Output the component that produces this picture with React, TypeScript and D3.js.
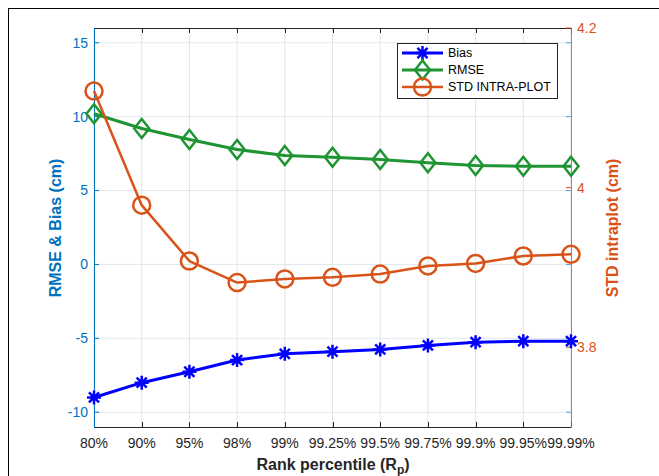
import { useRef, useEffect } from 'react';
import * as d3 from 'd3';

const categories = ['80%', '90%', '95%', '98%', '99%', '99.25%', '99.5%', '99.75%', '99.9%', '99.95%', '99.99%'];
const bias = [-9.0, -8.0, -7.26, -6.47, -6.05, -5.9, -5.75, -5.48, -5.26, -5.19, -5.19];
const rmse = [10.2, 9.2, 8.46, 7.78, 7.37, 7.26, 7.1, 6.88, 6.7, 6.65, 6.65];
const stdIntra = [4.121, 3.978, 3.908, 3.881, 3.8855, 3.8876, 3.8917, 3.9018, 3.905, 3.9143, 3.9164];
const leftTicks = [-10, -5, 0, 5, 10, 15];
const rightTicks = [3.8, 4, 4.2];

const BLUE_AX = '#0072BD';
const ORANGE = '#D95319';
const GREEN = '#1f9433';
const BLUE = '#0000ff';
const FONT = '"Liberation Sans", Arial, sans-serif';

const App = () => {
  const ref = useRef<SVGSVGElement | null>(null);

  useEffect(() => {
    const svg = d3.select(ref.current);
    svg.selectAll('*').remove();

    const left = 94, right = 571, top = 28, bottom = 427;

    const x = d3.scalePoint<string>().domain(categories).range([left, right]).padding(0);
    const yL = d3.scaleLinear().domain([-11, 16]).range([bottom, top]);
    const yR = d3.scaleLinear().domain([3.7, 4.2]).range([bottom, top]);

    // figure frame
    svg.append('rect')
      .attr('x', 8.5).attr('y', 8.5).attr('width', 700).attr('height', 600)
      .attr('fill', '#fff').attr('stroke', '#000').attr('stroke-width', 1);

    // grid
    const grid = svg.append('g');
    grid.selectAll('line.v').data(categories).enter().append('line')
      .attr('x1', d => x(d)!).attr('x2', d => x(d)!)
      .attr('y1', top).attr('y2', bottom)
      .attr('stroke', '#e4e4e4').attr('stroke-width', 1);
    grid.selectAll('line.h').data(leftTicks).enter().append('line')
      .attr('x1', left).attr('x2', right)
      .attr('y1', d => yL(d)).attr('y2', d => yL(d))
      .attr('stroke', '#e0e8f0').attr('stroke-width', 1);

    // top & bottom box lines with inward ticks
    const box = svg.append('g').attr('stroke', '#262626').attr('stroke-width', 1);
    box.append('line').attr('x1', left).attr('x2', right).attr('y1', top + 0.5).attr('y2', top + 0.5);
    box.append('line').attr('x1', left).attr('x2', right).attr('y1', bottom + 0.5).attr('y2', bottom + 0.5);
    categories.forEach(c => {
      const cx = Math.round(x(c)!) + 0.5;
      box.append('line').attr('x1', cx).attr('x2', cx).attr('y1', top).attr('y2', top + 5);
      box.append('line').attr('x1', cx).attr('x2', cx).attr('y1', bottom).attr('y2', bottom - 5);
    });

    // left axis
    const la = svg.append('g');
    la.append('line').attr('x1', left + 0.5).attr('x2', left + 0.5).attr('y1', top).attr('y2', bottom + 1)
      .attr('stroke', BLUE_AX).attr('stroke-width', 1);
    leftTicks.forEach(t => {
      la.append('line').attr('x1', left).attr('x2', left + 5).attr('y1', yL(t)).attr('y2', yL(t))
        .attr('stroke', BLUE_AX);
      la.append('line').attr('x1', right - 5).attr('x2', right).attr('y1', yL(t)).attr('y2', yL(t))
        .attr('stroke', BLUE_AX).attr('opacity', 0.6);
      la.append('text').attr('x', left - 6).attr('y', yL(t)).attr('dy', '0.35em')
        .attr('text-anchor', 'end').attr('fill', BLUE_AX)
        .style('font-family', FONT).style('font-size', '14px').text(String(t));
    });

    // right axis
    const ra = svg.append('g');
    ra.append('line').attr('x1', right + 0.5).attr('x2', right + 0.5).attr('y1', top).attr('y2', bottom + 1)
      .attr('stroke', ORANGE).attr('stroke-width', 1).attr('opacity', 0.8);
    rightTicks.forEach(t => {
      ra.append('line').attr('x1', right - 5).attr('x2', right).attr('y1', yR(t)).attr('y2', yR(t))
        .attr('stroke', ORANGE);
      ra.append('text').attr('x', right + 6).attr('y', yR(t)).attr('dy', '0.35em')
        .attr('text-anchor', 'start').attr('fill', ORANGE)
        .style('font-family', FONT).style('font-size', '14px').text(String(t));
    });

    // x tick labels
    svg.append('g').selectAll('text').data(categories).enter().append('text')
      .attr('x', d => x(d)!).attr('y', 448).attr('text-anchor', 'middle')
      .attr('fill', '#262626').style('font-family', FONT).style('font-size', '14px')
      .text(d => d);

    // axis titles
    const xl = svg.append('text').attr('x', 333).attr('y', 470).attr('text-anchor', 'middle')
      .attr('fill', '#262626').style('font-family', FONT).style('font-size', '16px').style('font-weight', 'bold');
    xl.append('tspan').text('Rank percentile (R');
    xl.append('tspan').attr('dy', 4).style('font-size', '12px').text('p');
    xl.append('tspan').attr('dy', -4).text(')');

    svg.append('text').attr('transform', 'translate(61,228) rotate(-90)').attr('text-anchor', 'middle')
      .attr('fill', BLUE_AX).style('font-family', FONT).style('font-size', '16px').style('font-weight', 'bold')
      .text('RMSE & Bias (cm)');
    svg.append('text').attr('transform', 'translate(618,228) rotate(-90)').attr('text-anchor', 'middle')
      .attr('fill', ORANGE).style('font-family', FONT).style('font-size', '16px').style('font-weight', 'bold')
      .text('STD intraplot (cm)');

    // marker painters
    const asterisk = (g: any, cx: number, cy: number, color: string) => {
      const r = 7;
      const d = r * 0.72;
      const p = `M${cx - r},${cy}L${cx + r},${cy}M${cx},${cy - r}L${cx},${cy + r}` +
        `M${cx - d},${cy - d}L${cx + d},${cy + d}M${cx - d},${cy + d}L${cx + d},${cy - d}`;
      g.append('path').attr('d', p).attr('stroke', color).attr('stroke-width', 2.5).attr('fill', 'none');
    };
    const diamond = (g: any, cx: number, cy: number, color: string) => {
      const w = 7.5, h = 9.5;
      g.append('path').attr('d', `M${cx},${cy - h}L${cx + w},${cy}L${cx},${cy + h}L${cx - w},${cy}Z`)
        .attr('stroke', color).attr('stroke-width', 2.5).attr('fill', 'none');
    };
    const circle = (g: any, cx: number, cy: number, color: string) => {
      g.append('circle').attr('cx', cx).attr('cy', cy).attr('r', 8.5)
        .attr('stroke', color).attr('stroke-width', 2.5).attr('fill', 'none');
    };

    const series = [
      { values: bias, scale: yL, color: BLUE, width: 3, marker: asterisk, label: 'Bias' },
      { values: rmse, scale: yL, color: GREEN, width: 3, marker: diamond, label: 'RMSE' },
      { values: stdIntra, scale: yR, color: ORANGE, width: 2.5, marker: circle, label: 'STD INTRA-PLOT' },
    ];

    series.forEach(s => {
      const g = svg.append('g');
      const line = d3.line<number>()
        .x((d, i) => x(categories[i])!)
        .y(d => s.scale(d));
      g.append('path').attr('d', line(s.values)).attr('fill', 'none')
        .attr('stroke', s.color).attr('stroke-width', s.width).attr('stroke-linejoin', 'round');
      s.values.forEach((v, i) => s.marker(g, x(categories[i])!, s.scale(v), s.color));
    });

    // legend
    const lg = svg.append('g');
    lg.append('rect').attr('x', 397.5).attr('y', 43.5).attr('width', 160).attr('height', 55)
      .attr('fill', '#fff').attr('stroke', '#262626').attr('stroke-width', 1);
    const rows = [53, 70, 87];
    series.forEach((s, i) => {
      const cy = rows[i];
      lg.append('line').attr('x1', 402).attr('x2', 443).attr('y1', cy).attr('y2', cy)
        .attr('stroke', s.color).attr('stroke-width', s.width);
      s.marker(lg, 422.5, cy, s.color);
      lg.append('text').attr('x', 448).attr('y', cy).attr('dy', '0.35em')
        .attr('fill', '#000').style('font-family', FONT).style('font-size', '12.5px').text(s.label);
    });
  }, []);

  return (
    <svg ref={ref} width={659} height={476}
      style={{ position: 'absolute', left: 0, top: 0, background: '#fff' }} />
  );
};

export default App;
